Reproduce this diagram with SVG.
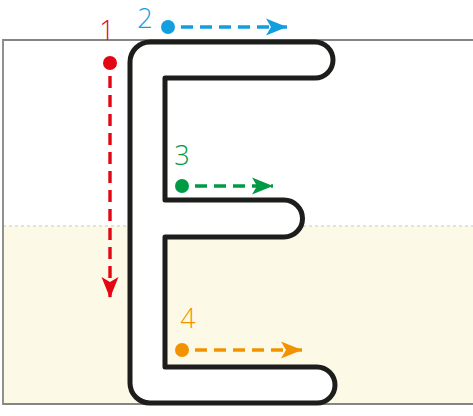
<svg xmlns="http://www.w3.org/2000/svg" width="473" height="416" viewBox="0 0 473 416">
<style>
.lbl{font-family:"Open Sans","Liberation Sans",sans-serif;font-weight:300;font-size:27px}
.dash{fill:none;stroke-width:3.4;stroke-dasharray:12 7}
</style>
<defs>
<marker id="mr" markerUnits="userSpaceOnUse" markerWidth="24" markerHeight="20" refX="21" refY="10" orient="auto"><path d="M0,1.5 L21,10 L0,18.5 L5,10 Z" fill="#e30613"/></marker>
<marker id="mb" markerUnits="userSpaceOnUse" markerWidth="24" markerHeight="20" refX="21" refY="10" orient="auto"><path d="M0,1.5 L21,10 L0,18.5 L5,10 Z" fill="#139ee0"/></marker>
<marker id="mg" markerUnits="userSpaceOnUse" markerWidth="24" markerHeight="20" refX="21" refY="10" orient="auto"><path d="M0,1.5 L21,10 L0,18.5 L5,10 Z" fill="#009a44"/></marker>
<marker id="mo" markerUnits="userSpaceOnUse" markerWidth="24" markerHeight="20" refX="21" refY="10" orient="auto"><path d="M0,1.5 L21,10 L0,18.5 L5,10 Z" fill="#f39200"/></marker>
</defs>
<rect x="0" y="0" width="473" height="416" fill="#fff"/>
<g id="frame">
<rect x="3" y="226" width="470" height="178" fill="#fdf9e7"/>
<line x1="3" y1="226" x2="473" y2="226" stroke="#d9d9d3" stroke-width="1.6" stroke-dasharray="3 3"/>
<path d="M473,40 H3 V404 H473" fill="none" stroke="#858585" stroke-width="1.8"/>
</g>
<g id="letter-E">
<path d="M150,42 L315,42 A18,18 0 0 1 315,78 L165,78 L165,200 L284,200 A18.5,18.5 0 0 1 284,237 L165,237 L165,367 L317,367 A18,18 0 0 1 317,403 L150,403 A20,20 0 0 1 130,383 L130,62 A20,20 0 0 1 150,42 Z" fill="#fff" stroke="#1d1d1b" stroke-width="5" stroke-linejoin="round"/>
</g>
<g id="connectors">
<path class="dash" d="M110,76 V298" stroke="#e30613" marker-end="url(#mr)"/>
<path class="dash" d="M181,27 H287" stroke="#139ee0" marker-end="url(#mb)"/>
<path class="dash" d="M195,186 H273" stroke="#009a44" marker-end="url(#mg)"/>
<path class="dash" d="M195,350 H302" stroke="#f39200" marker-end="url(#mo)"/>
</g>
<g id="stroke-1">
<circle cx="110" cy="63" r="7" fill="#e30613"/>
<text class="lbl" x="107" y="40" text-anchor="middle" fill="#e30613">1</text>
</g>
<g id="stroke-2">
<circle cx="168" cy="27" r="7" fill="#139ee0"/>
<text class="lbl" x="145" y="28" text-anchor="middle" fill="#139ee0">2</text>
</g>
<g id="stroke-3">
<circle cx="182" cy="186" r="7" fill="#009a44"/>
<text class="lbl" x="182" y="165" text-anchor="middle" fill="#009a44">3</text>
</g>
<g id="stroke-4">
<circle cx="182" cy="350" r="7" fill="#f39200"/>
<text class="lbl" x="188" y="328" text-anchor="middle" fill="#f39200">4</text>
</g>
</svg>
